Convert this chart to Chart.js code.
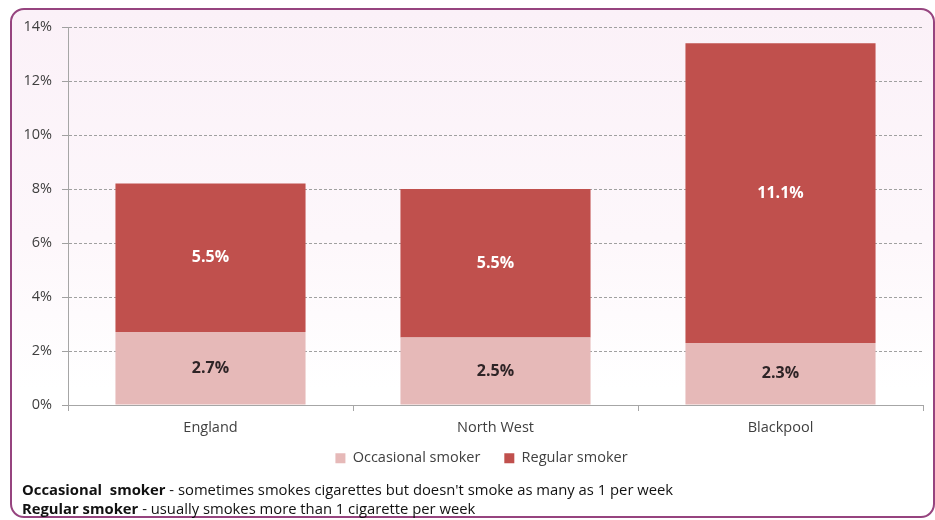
<!DOCTYPE html>
<html>
<head>
<meta charset="utf-8">
<script src="https://cdn.jsdelivr.net/npm/chart.js@4"></script>
<style>
html, body { margin: 0; padding: 0; background: #fff; }
#frame { position: absolute; left: 10px; top: 8px; width: 921px; height: 506px;
  border: 2px solid #96447f; border-radius: 14px;
  background: linear-gradient(#fbf1f8 0%, #fdf7fb 45%, #ffffff 75%); }
#wrap { position: absolute; left: 0; top: 0; width: 935px; height: 491px; }
.note { position: absolute; left: 22px; font-family: "Open Sans", sans-serif; font-size: 14.8px; color: #111; white-space: nowrap; }
</style>
</head>
<body>
<div id="frame"></div>
<div id="wrap"><canvas id="mycanvas"></canvas></div>
<div class="note" style="top:479px"><b>Occasional&nbsp; smoker</b> - sometimes smokes cigarettes but doesn't smoke as many as 1 per week</div>
<div class="note" style="top:498px"><b>Regular smoker</b> - usually smokes more than 1 cigarette per week</div>
<script>
var areas = ['England', 'North West', 'Blackpool'];
var occasional = [2.7, 2.5, 2.3];
var regular = [5.5, 5.5, 11.1];
var yTicks = [0, 2, 4, 6, 8, 10, 12, 14];

// value labels in the middle of every segment
var barLabels = {
  id: 'barLabels',
  afterDatasetsDraw: function(chart) {
    var ctx = chart.ctx;
    ctx.save();
    ctx.font = 'bold 16px "Open Sans"';
    ctx.textAlign = 'center';
    ctx.textBaseline = 'middle';
    chart.data.datasets.forEach(function(ds, i) {
      var meta = chart.getDatasetMeta(i);
      ctx.fillStyle = i == 0 ? '#2e2426' : '#ffffff';
      meta.data.forEach(function(bar, j) {
        ctx.fillText(ds.data[j].toFixed(1) + '%', bar.x, (bar.y + bar.base) / 2);
      });
    });
    ctx.restore();
  }
};

// legend sits a bit right of centre and closer to the axis in the original
var legendShift = {
  id: 'legendShift',
  afterLayout: function(chart) {
    chart.legend.left += 20;
    chart.legend.right += 20;
    chart.legend.top -= 15.5;
    chart.legend.bottom -= 15.5;
  }
};

var chartdata = {
  labels: areas,
  datasets: [
    {
      label: 'Occasional smoker',
      backgroundColor: '#e6b9b8',
      data: occasional
    },
    {
      label: 'Regular smoker',
      backgroundColor: '#c0504d',
      data: regular
    }
  ]
};

var barGraph = new Chart(document.getElementById('mycanvas'), {
  type: 'bar',
  data: chartdata,
  plugins: [barLabels, legendShift],
  options: {
    responsive: true,
    maintainAspectRatio: false,
    animation: false,
    layout: { padding: { top: 27, right: 12, bottom: 0, left: 0 } },
    datasets: { bar: { categoryPercentage: 0.667, barPercentage: 1 } },
    plugins: {
      tooltip: { enabled: false },
      legend: {
        position: 'bottom',
        labels: {
          boxWidth: 10, boxHeight: 10, padding: 24,
          color: '#404040',
          font: { family: 'Open Sans', size: 14.5 }
        }
      }
    },
    scales: {
      x: {
        stacked: true,
        afterFit: function(s) { s.height = 37.5; },
        grid: { drawOnChartArea: false, drawTicks: true, tickLength: 6, color: '#a6a6a6' },
        border: { color: '#a6a6a6', width: 1 },
        ticks: { color: '#404040', padding: 8, font: { family: 'Open Sans', size: 14.5 } }
      },
      y: {
        stacked: true,
        min: 0,
        max: 14,
        afterFit: function(s) { s.width = 68; },
        afterBuildTicks: function(s) { s.ticks = yTicks.map(function(v) { return { value: v }; }); },
        grid: { color: '#a0a0a0', tickLength: 6 },
        border: { color: '#a6a6a6', width: 1, dash: [3, 2] },
        ticks: {
          color: '#404040', padding: 10,
          font: { family: 'Open Sans', size: 14.5 },
          callback: function(v) { return v + '%'; }
        }
      }
    }
  }
});
</script>
</body>
</html>
